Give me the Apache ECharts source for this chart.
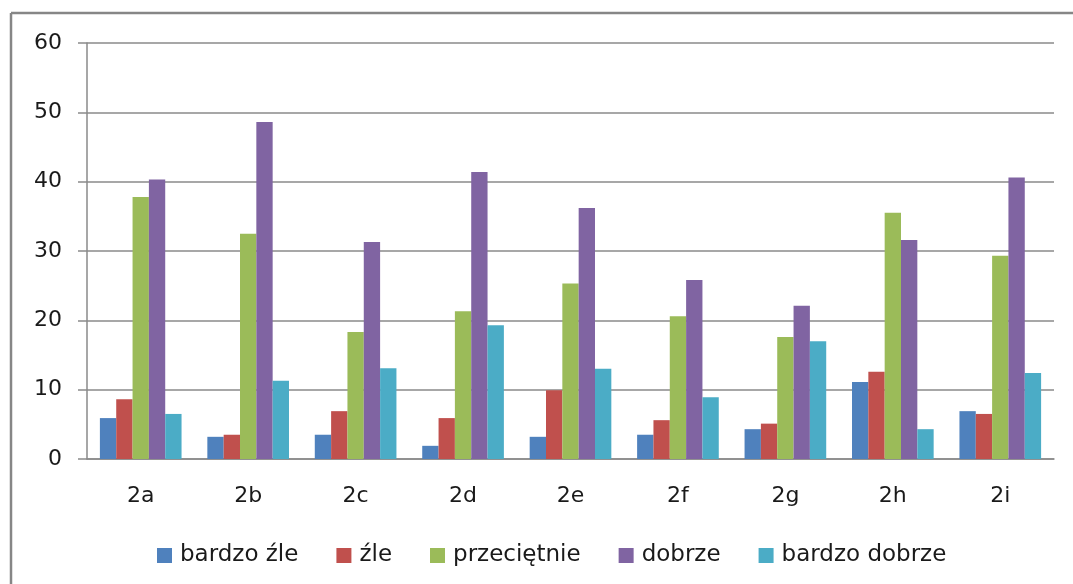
<!DOCTYPE html>
<html>
<head>
<meta charset="utf-8">
<script src="https://cdn.jsdelivr.net/npm/echarts@6/dist/echarts.min.js"></script>
<style>
  html, body { margin: 0; padding: 0; background: #fff; }
  #main { width: 1073px; height: 584px; }
</style>
</head>
<body>
<div id="main"></div>
<script>
// kategorie (pytania)
var categories = ['2a', '2b', '2c', '2d', '2e', '2f', '2g', '2h', '2i'];

// odpowiedzi w %
var bardzoZle   = [5.9, 3.2, 3.5, 1.9, 3.2, 3.5, 4.3, 11.1, 6.9];
var zle         = [8.6, 3.5, 6.9, 5.9, 9.9, 5.6, 5.1, 12.6, 6.5];
var przecietnie = [37.8, 32.5, 18.3, 21.3, 25.3, 20.6, 17.6, 35.5, 29.3];
var dobrze      = [40.3, 48.6, 31.3, 41.4, 36.2, 25.8, 22.1, 31.6, 40.6];
var bardzoDobrze = [6.5, 11.3, 13.1, 19.3, 13.0, 8.9, 17.0, 4.3, 12.4];

var seriesNames = ['bardzo źle', 'źle', 'przeciętnie', 'dobrze', 'bardzo dobrze'];
var seriesData = [bardzoZle, zle, przecietnie, dobrze, bardzoDobrze];
var colors = ['#4F81BD', '#C0504D', '#9BBB59', '#8064A2', '#4BACC6'];

var font = 'DejaVu Sans';

var series = seriesNames.map(function (name, i) {
    return {
        name: name,
        type: 'bar',
        data: seriesData[i],
        barGap: '0%',
        barCategoryGap: '24%',
        itemStyle: { color: colors[i] }
    };
});

var option = {
    animation: false,
    color: colors,
    grid: { left: 87, right: 19, top: 43, bottom: 125 },
    legend: {
        left: 152,
        top: 539,
        itemWidth: 15,
        itemHeight: 15,
        itemGap: 38,
        icon: 'rect',
        textStyle: { fontFamily: font, fontSize: 23, color: '#1a1a1a', padding: [0, 0, 0, 3] },
        data: seriesNames
    },
    xAxis: {
        type: 'category',
        data: categories,
        axisLine: { lineStyle: { color: '#8a8a8a', width: 1.5 } },
        axisTick: { length: 9, lineStyle: { color: '#8a8a8a', width: 1.5 } },
        axisLabel: { fontFamily: font, fontSize: 22, color: '#1a1a1a', margin: 26 }
    },
    yAxis: {
        type: 'value',
        min: 0,
        max: 60,
        interval: 10,
        axisLine: { show: true, lineStyle: { color: '#8a8a8a', width: 1.5 } },
        axisTick: { show: true, length: 9, lineStyle: { color: '#8a8a8a', width: 1.5 } },
        splitLine: { lineStyle: { color: '#8a8a8a', width: 1.5 } },
        axisLabel: { fontFamily: font, fontSize: 22, color: '#1a1a1a', margin: 25 }
    },
    // ramka wykresu (góra i lewa krawędź)
    graphic: [
        { type: 'line', shape: { x1: 11, y1: 13, x2: 1073, y2: 13 }, style: { stroke: '#868686', lineWidth: 2.5 } },
        { type: 'line', shape: { x1: 11, y1: 13, x2: 11, y2: 584 }, style: { stroke: '#868686', lineWidth: 2.5 } }
    ],
    series: series
};

var chart = echarts.init(document.getElementById('main'));
chart.setOption(option);
</script>
</body>
</html>
